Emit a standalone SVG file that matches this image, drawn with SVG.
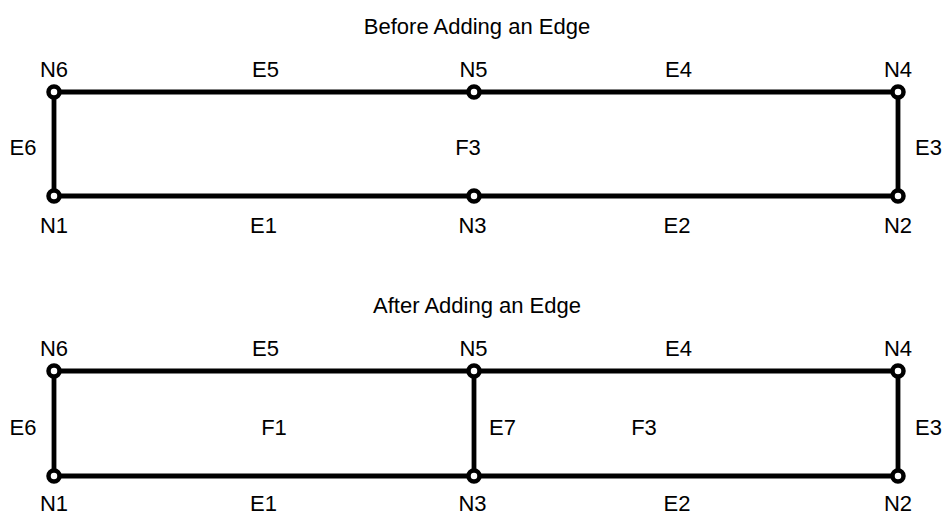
<svg xmlns="http://www.w3.org/2000/svg" width="945" height="512" viewBox="0 0 945 512">
<style>
text{font-family:"Liberation Sans",Arial,sans-serif;font-size:22px;fill:#000;text-anchor:middle}
.e{stroke:#000;stroke-width:4.8;fill:none}
.n{stroke:#000;stroke-width:4.5;fill:#fff}
</style>
<rect width="945" height="512" fill="#fff"/>
<text x="477" y="34">Before Adding an Edge</text>
<text x="477" y="312.5">After Adding an Edge</text>
<g id="connectors">
<line class="e" x1="54" y1="92" x2="898" y2="92"/>
<line class="e" x1="54" y1="196" x2="898" y2="196"/>
<line class="e" x1="54" y1="92" x2="54" y2="196"/>
<line class="e" x1="898" y1="92" x2="898" y2="196"/>
<line class="e" x1="54" y1="371" x2="898" y2="371"/>
<line class="e" x1="54" y1="476" x2="898" y2="476"/>
<line class="e" x1="54" y1="371" x2="54" y2="476"/>
<line class="e" x1="898" y1="371" x2="898" y2="476"/>
<line class="e" x1="474" y1="371" x2="474" y2="476"/>
</g>
<g id="edge-labels">
<text x="265.5" y="77">E5</text><text x="678.5" y="77">E4</text>
<text x="23" y="155">E6</text><text x="928.5" y="155">E3</text>
<text x="263.5" y="233">E1</text><text x="677" y="233">E2</text>
<text x="468" y="155">F3</text>
<text x="265.5" y="356">E5</text><text x="678.5" y="356">E4</text>
<text x="23" y="435">E6</text><text x="928.5" y="435">E3</text>
<text x="263.5" y="510.5">E1</text><text x="677" y="510.5">E2</text>
<text x="274" y="435">F1</text><text x="644" y="435">F3</text>
<text x="502.5" y="435">E7</text>
</g>
<g id="N6a"><circle class="n" cx="54" cy="92" r="5.5"/><text x="54" y="77">N6</text></g>
<g id="N5a"><circle class="n" cx="474" cy="92" r="5.5"/><text x="473.5" y="77">N5</text></g>
<g id="N4a"><circle class="n" cx="898" cy="92" r="5.5"/><text x="898" y="77">N4</text></g>
<g id="N1a"><circle class="n" cx="54" cy="196" r="5.5"/><text x="54" y="233">N1</text></g>
<g id="N3a"><circle class="n" cx="474" cy="196" r="5.5"/><text x="472.5" y="233">N3</text></g>
<g id="N2a"><circle class="n" cx="898" cy="196" r="5.5"/><text x="898" y="233">N2</text></g>
<g id="N6b"><circle class="n" cx="54" cy="371" r="5.5"/><text x="54" y="356">N6</text></g>
<g id="N5b"><circle class="n" cx="474" cy="371" r="5.5"/><text x="473.5" y="356">N5</text></g>
<g id="N4b"><circle class="n" cx="898" cy="371" r="5.5"/><text x="898" y="356">N4</text></g>
<g id="N1b"><circle class="n" cx="54" cy="476" r="5.5"/><text x="54" y="510.5">N1</text></g>
<g id="N3b"><circle class="n" cx="474" cy="476" r="5.5"/><text x="472.5" y="510.5">N3</text></g>
<g id="N2b"><circle class="n" cx="898" cy="476" r="5.5"/><text x="898" y="510.5">N2</text></g>
</svg>
